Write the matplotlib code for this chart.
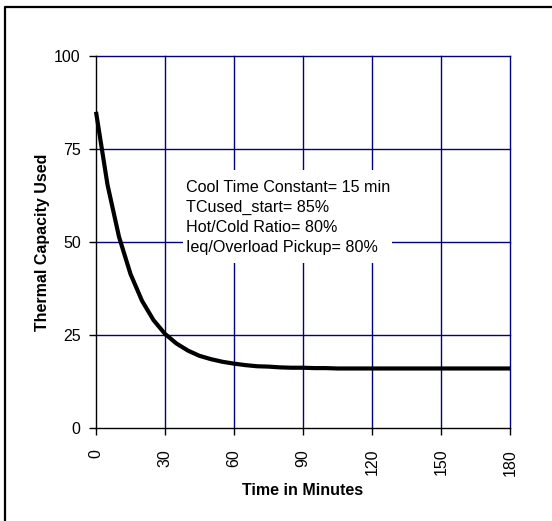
import matplotlib
matplotlib.use("Agg")
import matplotlib.pyplot as plt
from matplotlib.lines import Line2D
from matplotlib.patches import Rectangle

# Thermal capacity used while cooling, sampled every 5 minutes
minutes = [0, 5, 10, 15, 20, 25, 30, 35, 40, 45, 50, 55, 60, 65, 70, 75, 80, 85, 90,
           95, 100, 105, 110, 115, 120, 125, 130, 135, 140, 145, 150, 155, 160, 165,
           170, 175, 180]
tc_used = [85.0, 65.4, 51.4, 41.4, 34.2, 29.0, 25.3, 22.7, 20.8, 19.4, 18.5, 17.8,
           17.3, 16.9, 16.6, 16.5, 16.3, 16.2, 16.2, 16.1, 16.1, 16.0, 16.0, 16.0,
           16.0, 16.0, 16.0, 16.0, 16.0, 16.0, 16.0, 16.0, 16.0, 16.0, 16.0, 16.0,
           16.0]

x_ticks = [0, 30, 60, 90, 120, 150, 180]
y_ticks = [0, 25, 50, 75, 100]

settings = [
    "Cool Time Constant= 15 min",
    "TCused_start= 85%",
    "Hot/Cold Ratio= 80%",
    "Ieq/Overload Pickup= 80%",
]

plt.rcParams["font.family"] = ["Liberation Sans", "DejaVu Sans"]

W, H = 552, 521
fig = plt.figure(figsize=(W / 100, H / 100), dpi=100)
fig.patch.set_facecolor("white")

# outer frame (left and top edges)
fig.add_artist(Line2D([5 / W, 5 / W, 1.0], [0.0, 1 - 7 / H, 1 - 7 / H],
                      color="black", lw=1.6, transform=fig.transFigure))

ax = fig.add_axes([96 / W, 1 - 428 / H, 414 / W, 372 / H])
ax.set_xlim(0, 180)
ax.set_ylim(0, 100)

navy = "#000080"
for xv in x_ticks[1:]:
    ax.axvline(xv, color=navy, lw=1.0, zorder=1, clip_on=False)
for yv in y_ticks[1:]:
    ax.axhline(yv, color=navy, lw=1.0, zorder=1, clip_on=False)

for side in ("top", "right"):
    ax.spines[side].set_visible(False)
for side in ("left", "bottom"):
    ax.spines[side].set_color("black")
    ax.spines[side].set_linewidth(1.0)
    ax.spines[side].set_zorder(2)

ax.set_xticks(x_ticks)
ax.set_yticks(y_ticks)
ax.set_xticklabels([str(v) for v in x_ticks], rotation=90)
ax.tick_params(axis="both", direction="out", length=5, width=1.0, color="black",
               labelsize=11.5)
ax.tick_params(axis="y", pad=6)
ax.tick_params(axis="x", pad=10)

# parameter box hiding the grid behind it
ax.add_patch(Rectangle((0.210, 0.4435), 0.505, 0.25, transform=ax.transAxes,
                       facecolor="white", edgecolor="none", zorder=3))
line_y0 = (428 - 187) / 372
step = 20.3 / 372
for i, s in enumerate(settings):
    ax.text(0.2174, line_y0 - i * step, s, transform=ax.transAxes, fontsize=11.6,
            ha="left", va="center", zorder=4)

ax.plot(minutes, tc_used, color="black", lw=3.0, zorder=5, solid_capstyle="butt",
        clip_on=False)

ax.set_xlabel("Time in Minutes", fontsize=11.5, fontweight="bold", labelpad=5)
ax.set_ylabel("Thermal Capacity Used", fontsize=11.5, fontweight="bold", labelpad=3)

fig.savefig("out.png", dpi=100, facecolor="white")
